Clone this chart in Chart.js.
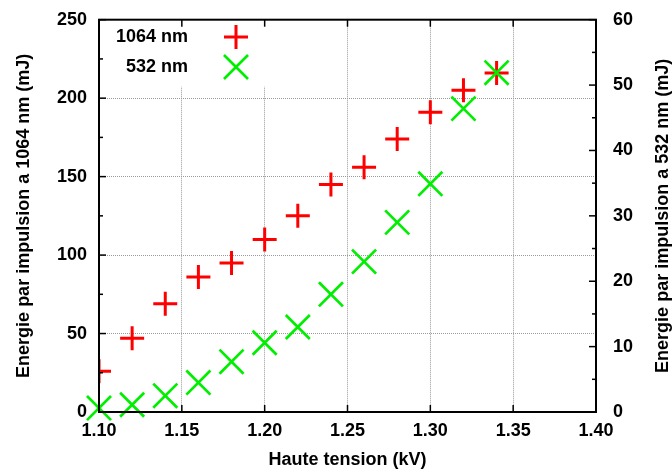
<!DOCTYPE html>
<html>
<head>
<meta charset="utf-8">
<script src="https://cdn.jsdelivr.net/npm/chart.js@4/dist/chart.umd.min.js"></script>
<style>
  html, body { margin: 0; padding: 0; background: #fff; }
  #wrap { width: 672px; height: 473px; }
</style>
</head>
<body>
<div id="wrap"><canvas id="chart"></canvas></div>
<script>
// data
const voltages = [1.10, 1.12, 1.14, 1.16, 1.18, 1.20, 1.22, 1.24, 1.26, 1.28, 1.30, 1.32, 1.34];
const energy1064 = [26, 47, 69, 86, 95, 110, 125, 145, 156, 174, 191, 205, 216];
const energy532 = [0.6, 1.1, 2.5, 4.5, 7.7, 10.6, 13.0, 18.0, 23.0, 29.0, 34.9, 46.4, 51.9];
const xTicks = [1.10, 1.15, 1.20, 1.25, 1.30, 1.35, 1.40];
const leftTicks = [0, 50, 100, 150, 200, 250];
const rightTicks = [0, 10, 20, 30, 40, 50, 60];
const labels = ['1064 nm', '532 nm'];

const FONT = 'Liberation Sans, Arial, sans-serif';
const tickFont = { family: FONT, size: 18, weight: 'bold' };

const toPoints = ys => voltages.map((x, i) => ({ x: x, y: ys[i] }));

// fixed axis sizes, no label overhang padding
const fixSize = (w, h) => s => {
  if (w) s.width = w;
  if (h) s.height = h;
  s.paddingTop = s.paddingBottom = s.paddingLeft = s.paddingRight = 0;
};

const frame = {
  id: 'frame',
  beforeDatasetsDraw(chart) {
    // key area blanks out the grid
    const { ctx, chartArea: a } = chart;
    ctx.save();
    ctx.fillStyle = '#fff';
    ctx.fillRect(a.left + 1, a.top + 1, 172, 66);
    ctx.restore();
  },
  afterDraw(chart) {
    const { ctx, chartArea: a, scales } = chart;
    ctx.save();
    ctx.strokeStyle = '#000';
    ctx.lineWidth = 2;
    ctx.strokeRect(a.left, a.top, a.right - a.left, a.bottom - a.top);

    const tick = (x1, y1, x2, y2) => {
      ctx.beginPath(); ctx.moveTo(x1, y1); ctx.lineTo(x2, y2); ctx.stroke();
    };
    ctx.lineWidth = 1.5;
    xTicks.forEach(v => {
      const x = scales.x.getPixelForValue(v);
      tick(x, a.bottom, x, a.bottom - 7);
      tick(x, a.top, x, a.top + 7);
    });
    leftTicks.forEach((v, i) => {
      const y = scales.y.getPixelForValue(v);
      tick(a.left, y, a.left + 7, y);
      if (i < leftTicks.length - 1) {
        const ym = scales.y.getPixelForValue(v + 25);
        tick(a.left, ym, a.left + 4, ym);
      }
    });
    rightTicks.forEach((v, i) => {
      const y = scales.y2.getPixelForValue(v);
      tick(a.right, y, a.right - 7, y);
      if (i < rightTicks.length - 1) {
        const ym = scales.y2.getPixelForValue(v + 5);
        tick(a.right, ym, a.right - 4, ym);
      }
    });

    // key
    ctx.fillStyle = '#000';
    ctx.font = 'bold 18px ' + FONT;
    ctx.textAlign = 'right';
    ctx.textBaseline = 'middle';
    const rows = [37, 67];
    chart.data.datasets.forEach((ds, i) => {
      ctx.fillText(labels[i], 188, rows[i]);
      ctx.strokeStyle = ds.borderColor;
      ctx.lineWidth = ds.borderWidth;
      Chart.helpers.drawPoint(ctx, {
        pointStyle: ds.pointStyle, radius: ds.pointRadius,
        borderWidth: ds.borderWidth
      }, 236, rows[i]);
    });

    // right axis title, reading upwards
    ctx.fillStyle = '#000';
    ctx.translate(663, (a.top + a.bottom) / 2);
    ctx.rotate(-Math.PI / 2);
    ctx.textAlign = 'center';
    ctx.fillText('Energie par impulsion a 532 nm (mJ)', 0, 0);
    ctx.restore();
  }
};

new Chart(document.getElementById('chart'), {
  type: 'scatter',
  data: {
    datasets: [
      {
        label: labels[0],
        data: toPoints(energy1064),
        yAxisID: 'y',
        pointStyle: 'cross',
        pointRadius: 12,
        borderWidth: 3,
        borderColor: '#ff0000',
        order: 1
      },
      {
        label: labels[1],
        data: toPoints(energy532),
        yAxisID: 'y2',
        pointStyle: 'crossRot',
        pointRadius: 17,
        borderWidth: 2.7,
        borderColor: '#00ee00',
        clip: false,
        order: 0
      }
    ]
  },
  options: {
    responsive: true,
    maintainAspectRatio: false,
    animation: false,
    layout: { padding: { top: 16, right: 0, left: 0, bottom: 0 } },
    plugins: { legend: { display: false }, tooltip: { enabled: false } },
    scales: {
      x: {
        type: 'linear', min: 1.10, max: 1.40,
        afterBuildTicks: s => { s.ticks = xTicks.map(v => ({ value: v })); },
        afterFit: fixSize(0, 61),
        ticks: { font: tickFont, color: '#000', padding: 8, callback: v => v.toFixed(2) },
        grid: { color: '#999', drawTicks: false },
        border: { display: false, dash: [1, 1] },
        title: { display: true, text: 'Haute tension (kV)', color: '#000', font: tickFont, padding: { top: 0, bottom: 2 } }
      },
      y: {
        position: 'left', min: 0, max: 250,
        afterBuildTicks: s => { s.ticks = leftTicks.map(v => ({ value: v })); },
        afterFit: fixSize(99, 0),
        ticks: { font: tickFont, color: '#000', padding: 12 },
        grid: { color: '#999', drawTicks: false },
        border: { display: false, dash: [1, 1] },
        title: { display: true, text: 'Energie par impulsion a 1064 nm (mJ)', color: '#000', font: tickFont, padding: { top: 13, bottom: 0 } }
      },
      y2: {
        position: 'right', min: 0, max: 60,
        afterBuildTicks: s => { s.ticks = rightTicks.map(v => ({ value: v })); },
        afterFit: fixSize(76, 0),
        ticks: { font: tickFont, color: '#000', padding: 17 },
        grid: { drawOnChartArea: false, drawTicks: false },
        border: { display: false }
      }
    }
  },
  plugins: [frame]
});
</script>
</body>
</html>
